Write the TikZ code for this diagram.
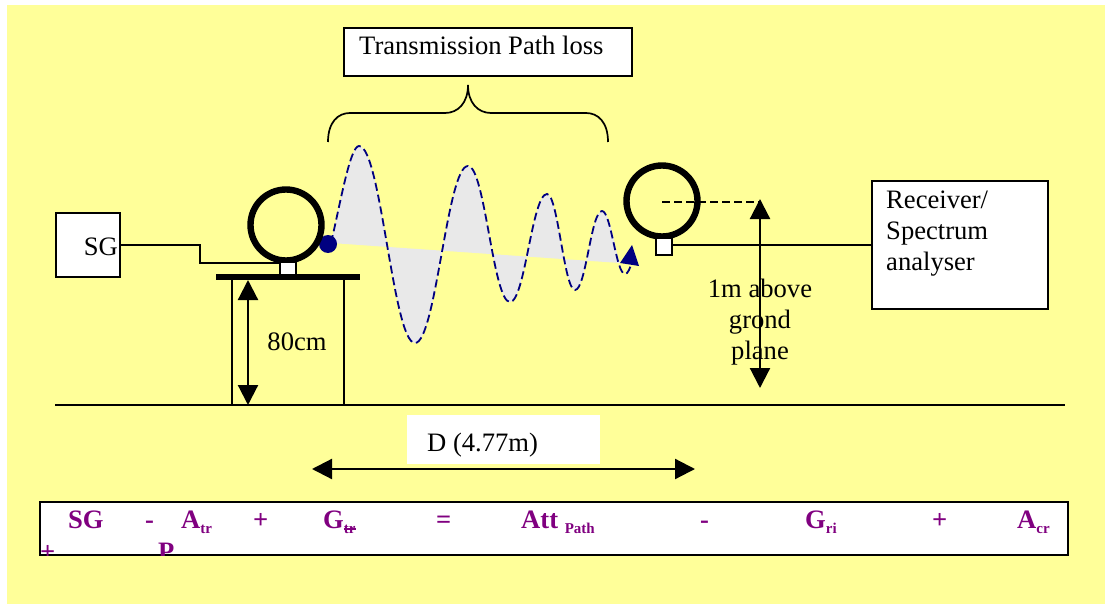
\documentclass[tikz,border=0pt]{standalone}
\usepackage{fontspec}
\setmainfont{Liberation Serif}
\usetikzlibrary{arrows.meta,positioning,calc}
\definecolor{padyellow}{HTML}{FFFF99}
\definecolor{wavenavy}{HTML}{000080}
\definecolor{wavegrey}{HTML}{E9E9E9}
\definecolor{eqpurple}{HTML}{800080}
\newcommand{\wavepath}{(331,243) .. controls (340,205) and (350,146) .. (359,146)
    .. controls (381,146) and (393,343) .. (415,343)
    .. controls (436,343) and (447,166) .. (468,166)
    .. controls (485,166) and (493,302) .. (510,302)
    .. controls (525,302) and (532,194) .. (547,194)
    .. controls (558,194) and (564,290) .. (575,290)
    .. controls (586,290) and (591,211) .. (602,211)}
\tikzset{
    whitebox/.style={rectangle, draw, fill=white, line width=1.8pt, inner sep=0pt},
    txt/.style={font=\fontsize{26.6}{31}\selectfont, inner sep=0pt, text=black},
    eqtxt/.style={font=\fontsize{26.6}{31}\selectfont\bfseries, inner sep=0pt, text=eqpurple, anchor=base west},
    antenna/.style={circle, draw, line width=6.4pt, minimum size=71pt, inner sep=0pt},
    wire/.style={line width=1.7pt},
    bigarrow/.style={line width=2.2pt, {Triangle[width=20pt,length=20pt]}-{Triangle[width=20pt,length=20pt]}},
}
\newcommand{\sub}[1]{\raisebox{-5pt}{\fontsize{15}{18}\selectfont #1}}
\newcommand{\strk}[1]{\rlap{\rule[3.2pt]{12pt}{1.5pt}}#1}
\begin{document}
\begin{tikzpicture}[x=1pt, y=-1pt]
    \useasboundingbox (0,0) rectangle (1105,604);
    \fill[padyellow] (7,5) rectangle (1105,604);

    % Wave
    \fill[wavegrey] \wavepath .. controls (610,211) and (615,250) .. (620,263) -- cycle;
    \draw[wavenavy, line width=1.8pt, dash pattern=on 8pt off 4pt] \wavepath
        .. controls (611,211) and (616,274) .. (625,274) .. controls (628,274) and (630,268) .. (632,262);
    \node[circle, fill=wavenavy, minimum size=18pt, inner sep=0pt] (txdot) at (328,244) {};
    \fill[wavenavy] (632,245) -- (639,266) -- (620,263) -- cycle;

    % Transmitter side
    \node[whitebox, minimum width=64pt, minimum height=64pt] (sg) at (88,245) {};
    \node[txt, anchor=base east] (sglabel) at (118,255) {SG};
    \node[antenna] (txloop) at (286,225) {};
    \node[whitebox, minimum width=16pt, minimum height=14pt, line width=1.2pt] (txfoot) at (288,269) {};
    \coordinate (tablel) at (216,277);
    \coordinate (tabler) at (360,277);
    \coordinate (legl) at (232,277);
    \coordinate (legr) at (344,277);
    \coordinate (cablea) at (200,245);
    \coordinate (cableb) at (200,263);
    \coordinate (cablec) at (280,263);
    \draw[wire] (sg.east) -- (cablea) -- (cableb) -- (cablec);
    \draw[line width=6pt] (tablel) -- (tabler);

    % Ground
    \coordinate (gndl) at (55,405);
    \coordinate (gndr) at (1065,405);
    \coordinate (legla) at (232,405);
    \coordinate (legra) at (344,405);
    \draw[wire] (gndl) -- (gndr);
    \draw[wire] (legl) -- (legla);
    \draw[wire] (legr) -- (legra);
    \coordinate (tabtop) at (248,280);
    \coordinate (tabbot) at (248,405);
    \draw[bigarrow] (tabbot) -- (tabtop);
    \node[txt, anchor=base] (tablab) at (297,350) {80cm};

    % Receiver side
    \node[antenna] (rxloop) at (662,201) {};
    \node[whitebox, minimum width=16pt, minimum height=17pt, line width=1.2pt] (rxfoot) at (664,246.5) {};
    \node[whitebox, minimum width=176pt, minimum height=128pt] (rx) at (960,245) {};
    \node[txt, align=left, anchor=north west] (rxlabel) at (886,191) {Receiver/\\Spectrum\\analyser};
    \draw[wire] (rxfoot.east |- rx.west) -- (rx.west);
    \node[txt, align=center, anchor=north] (hlabel) at (760,279) {1m above\\grond\\plane};
    \coordinate (htop) at (760,199);
    \coordinate (hbot) at (760,388);
    \coordinate (dashend) at (760,202);
    \draw[bigarrow] (hbot) -- (htop);
    \draw[wire, dash pattern=on 8pt off 4pt] (rxloop.center) ++(0,1) coordinate (dashstart) -- (dashend);

    % Path loss label and brace
    \node[whitebox, minimum width=288pt, minimum height=48pt] (pathbox) at (488,52) {};
    \node[txt, anchor=base west] (pathlab) at (359,55) {Transmission Path loss};
    \coordinate (bracel) at (328,142);
    \coordinate (bracer) at (608,142);
    \coordinate (braceap) at (468,85);
    \draw[wire] (bracel) .. controls (328,122) and (338,113) .. (350,113) -- (445,113)
        .. controls (458,113) and (468,103) .. (braceap)
        .. controls (468,103) and (478,113) .. (491,113) -- (586,113)
        .. controls (598,113) and (608,122) .. (bracer);

    % Distance
    \node[fill=white, minimum width=193pt, minimum height=49pt, inner sep=0pt] (dbox) at (503.5,439.5) {};
    \node[txt, anchor=base west] (dlab) at (427,451) {D (4.77m)};
    \coordinate (dl) at (312,469);
    \coordinate (dr) at (695,469);
    \draw[bigarrow] (dl) -- (dr);

    % Equation
    \node[whitebox, minimum width=1028pt, minimum height=53pt] (eqbox) at (554,528.5) {};
    \begin{scope}
        \clip (40,502) rectangle (1068,555);
        \node[eqtxt] (eqsg) at (68,528) {SG};
        \node[eqtxt] (eqm) at (145,528) {-};
        \node[eqtxt] (eqa) at (181,528) {A\sub{tr}};
        \node[eqtxt] (eqp) at (253,528) {+};
        \node[eqtxt] (eqg) at (323,528) {G\sub{\strk{tr}}};
        \node[eqtxt] (eqeq) at (436,528) {=};
        \node[eqtxt] (eqatt) at (521,528) {Att \sub{Path}};
        \node[eqtxt] (eqmb) at (700,528) {-};
        \node[eqtxt] (eqgr) at (805,528) {G\sub{ri}};
        \node[eqtxt] (eqpb) at (932,528) {+};
        \node[eqtxt] (eqac) at (1017,528) {A\sub{cr}};
        \node[eqtxt] (eqpc) at (40,560) {+};
        \node[eqtxt] (eqpp) at (158,560) {P};
    \end{scope}
\end{tikzpicture}
\end{document}
